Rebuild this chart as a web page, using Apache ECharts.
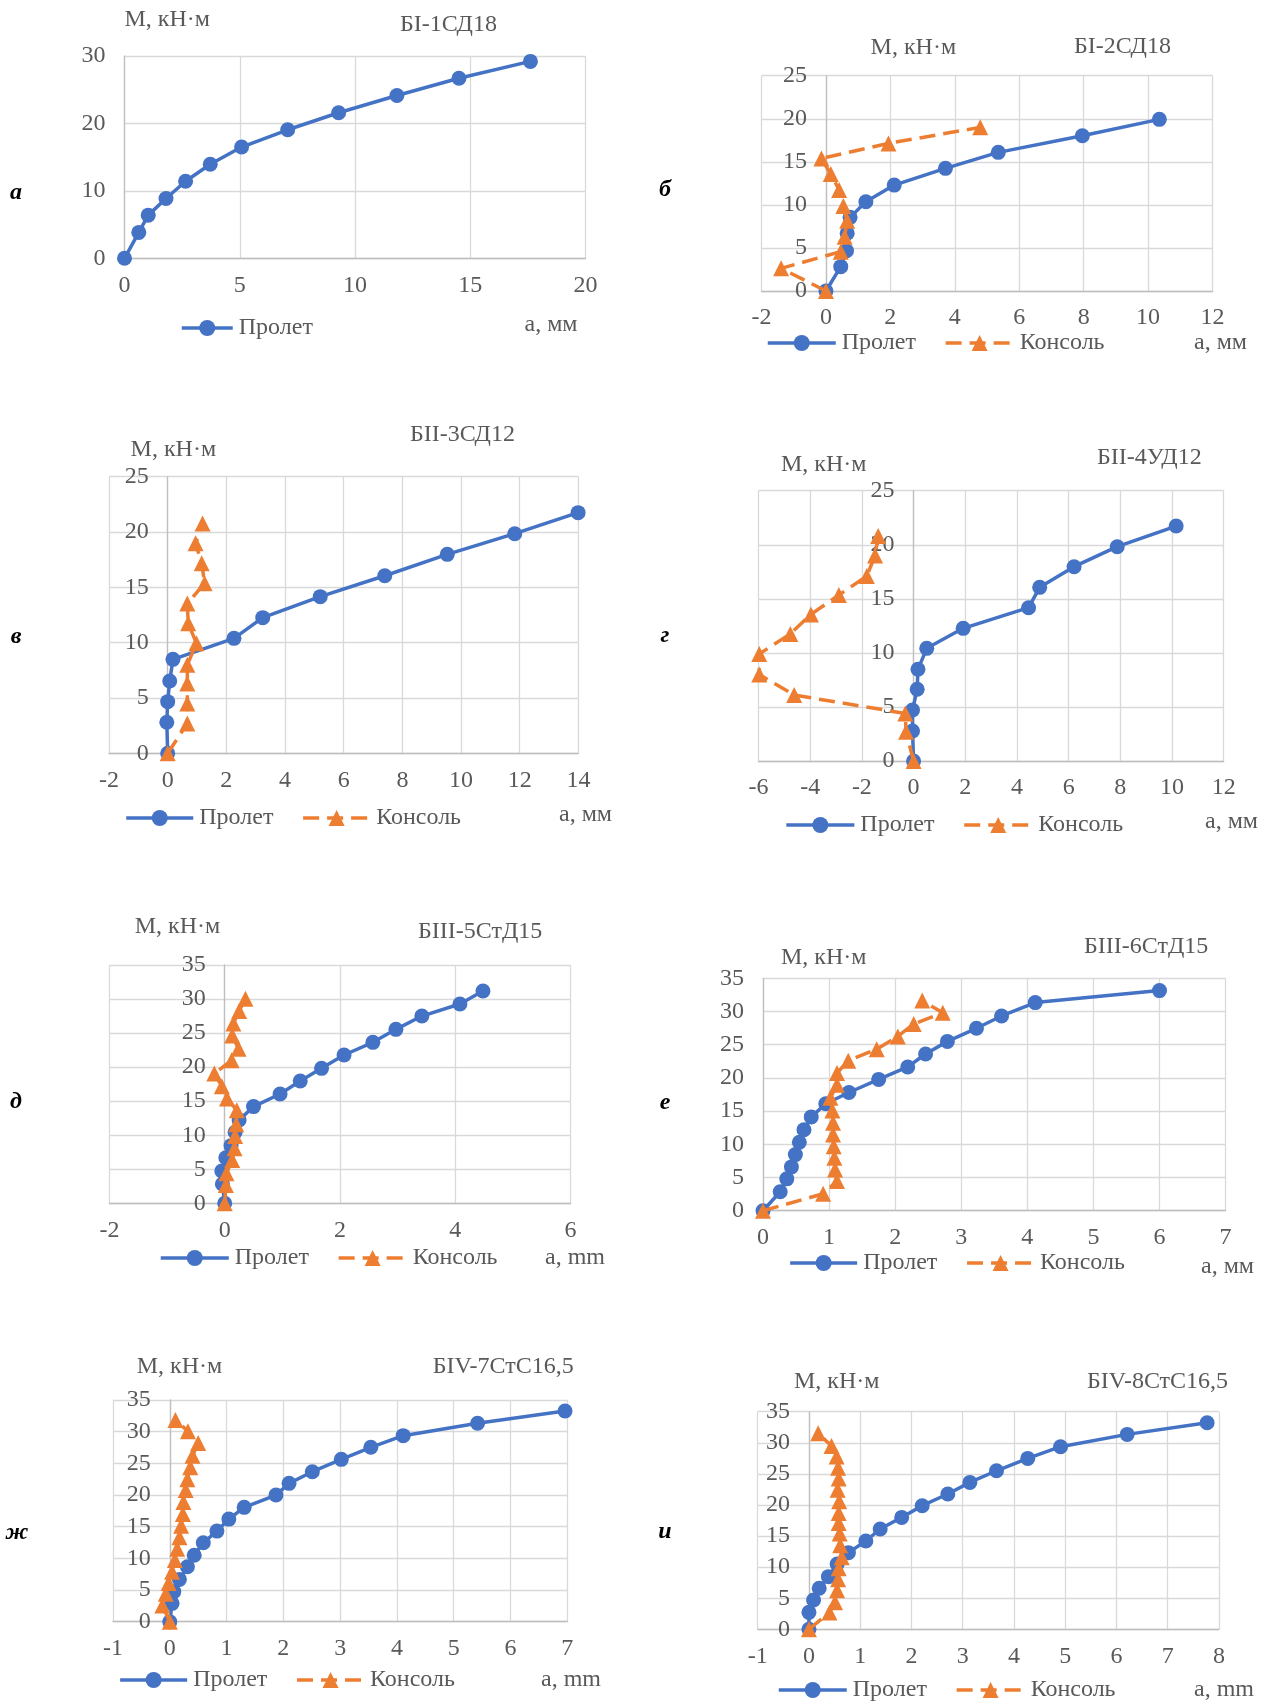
<!DOCTYPE html>
<html>
<head>
<meta charset="utf-8">
<script src="https://cdn.jsdelivr.net/npm/echarts@6/dist/echarts.min.js"></script>
<style>
  html, body { margin: 0; padding: 0; background: #ffffff; }
  #chart { width: 1266px; height: 1704px; }
</style>
</head>
<body>
<div id="chart"></div>
<script>
// ---- Measured moment–deflection data (a, mm ; M, kN·m) ----

// а: БI-1СД18
const a_span_a = [0, 0.62, 1.03, 1.8, 2.65, 3.72, 5.08, 7.08, 9.29, 11.82, 14.51, 17.61];
const a_span_M = [0, 3.84, 6.4, 8.87, 11.43, 13.94, 16.5, 19.06, 21.58, 24.14, 26.7, 29.2];

// б: БI-2СД18
const b_span_a = [0, 0.46, 0.64, 0.66, 0.75, 1.24, 2.12, 3.71, 5.35, 7.96, 10.35];
const b_span_M = [0, 2.83, 4.68, 6.7, 8.55, 10.37, 12.3, 14.24, 16.1, 18.03, 19.93];
const b_cant_a = [0, -1.39, 0.46, 0.58, 0.66, 0.54, 0.41, 0.15, -0.14, 1.94, 4.79];
const b_cant_M = [0, 2.63, 4.57, 6.3, 8.17, 9.87, 11.73, 13.58, 15.4, 17.14, 19.0];

// в: БII-3СД12
const v_span_a = [0, -0.03, 0, 0.07, 0.18, 2.26, 3.24, 5.2, 7.4, 9.53, 11.83, 13.99];
const v_span_M = [0, 2.8, 4.67, 6.54, 8.49, 10.39, 12.26, 14.16, 16.05, 17.98, 19.85, 21.75];
const v_cant_a = [0, 0.67, 0.67, 0.67, 0.67, 0.98, 0.7, 0.67, 1.26, 1.16, 0.95, 1.19];
const v_cant_M = [0, 2.7, 4.5, 6.3, 8.0, 9.94, 11.75, 13.55, 15.36, 17.17, 18.98, 20.78];

// г: БII-4УД12
const g_span_a = [0, -0.04, -0.04, 0.14, 0.17, 0.51, 1.92, 4.45, 4.88, 6.21, 7.88, 10.16];
const g_span_M = [0, 2.77, 4.72, 6.63, 8.48, 10.42, 12.27, 14.18, 16.06, 17.97, 19.82, 21.73];
const g_cant_a = [0, -0.29, -0.32, -4.62, -5.97, -5.97, -4.77, -3.97, -2.89, -1.81, -1.49, -1.37];
const g_cant_M = [0, 2.7, 4.4, 6.1, 8.0, 9.9, 11.75, 13.56, 15.35, 17.1, 19.0, 20.8];

// д: БIII-5СтД15
const d_span_a = [0, -0.04, -0.05, 0.02, 0.11, 0.18, 0.25, 0.5, 0.96, 1.31, 1.68, 2.07, 2.57, 2.97, 3.42, 4.08, 4.48];
const d_span_M = [0, 2.84, 4.75, 6.7, 8.47, 10.43, 12.24, 14.2, 16.05, 17.96, 19.82, 21.78, 23.64, 25.55, 27.5, 29.27, 31.18];
const d_cant_a = [0, 0.02, 0.03, 0.13, 0.17, 0.18, 0.2, 0.21, 0.04, -0.05, -0.18, 0.12, 0.24, 0.13, 0.15, 0.25, 0.36];
const d_cant_M = [0, 2.7, 4.4, 6.35, 8.1, 9.9, 11.6, 13.65, 15.4, 17.2, 19.05, 21.0, 22.7, 24.65, 26.4, 28.25, 30.05];

// е: БIII-6СтД15
const e_span_a = [0, 0.26, 0.36, 0.43, 0.49, 0.55, 0.62, 0.73, 0.95, 1.3, 1.75, 2.19, 2.46, 2.79, 3.23, 3.61, 4.12, 6.0];
const e_span_M = [0, 2.85, 4.8, 6.6, 8.45, 10.3, 12.2, 14.13, 16.1, 17.8, 19.77, 21.65, 23.6, 25.5, 27.47, 29.33, 31.34, 33.15];
const e_cant_a = [0, 0.91, 1.12, 1.09, 1.08, 1.07, 1.06, 1.06, 1.05, 1.02, 1.12, 1.12, 1.29, 1.72, 2.04, 2.28, 2.72, 2.41];
const e_cant_M = [0, 2.55, 4.47, 6.22, 7.97, 9.72, 11.47, 13.25, 15.1, 17.0, 18.97, 20.72, 22.6, 24.33, 26.25, 28.1, 29.8, 31.65];

// ж: БIV-7СтС16,5
const zh_span_a = [0, 0.04, 0.07, 0.17, 0.31, 0.43, 0.59, 0.83, 1.04, 1.31, 1.87, 2.1, 2.51, 3.02, 3.54, 4.11, 5.42, 6.96];
const zh_span_M = [0, 2.9, 4.74, 6.68, 8.68, 10.5, 12.47, 14.3, 16.2, 18.05, 20.0, 21.84, 23.68, 25.63, 27.53, 29.37, 31.32, 33.26];
const zh_cant_a = [0, -0.13, -0.07, -0.02, 0.04, 0.09, 0.13, 0.17, 0.2, 0.23, 0.24, 0.28, 0.31, 0.36, 0.4, 0.5, 0.32, 0.1];
const zh_cant_M = [0, 2.55, 4.4, 6.1, 7.9, 9.75, 11.5, 13.35, 15.15, 17.0, 18.9, 20.8, 22.5, 24.4, 26.2, 28.2, 30.05, 31.85];

// и: БIV-8СтС16,5
const i_span_a = [0, 0, 0.09, 0.2, 0.38, 0.55, 0.77, 1.11, 1.39, 1.81, 2.21, 2.71, 3.14, 3.66, 4.27, 4.91, 6.21, 7.77];
const i_span_M = [0, 2.73, 4.72, 6.6, 8.47, 10.5, 12.33, 14.2, 16.13, 18.0, 19.88, 21.76, 23.63, 25.5, 27.49, 29.37, 31.35, 33.23];
const i_cant_a = [0, 0.4, 0.51, 0.55, 0.57, 0.58, 0.64, 0.61, 0.6, 0.58, 0.58, 0.59, 0.56, 0.58, 0.57, 0.54, 0.44, 0.18];
const i_cant_M = [0, 2.7, 4.35, 6.3, 8.05, 9.8, 11.6, 13.5, 15.4, 17.1, 18.7, 20.6, 22.45, 24.25, 26.0, 27.8, 29.5, 31.55];

// Axis ranges: [min, max, interval]
const a_xRange = [0, 20, 5],  a_yRange = [0, 30, 10];
const b_xRange = [-2, 12, 2], b_yRange = [0, 25, 5];
const v_xRange = [-2, 14, 2], v_yRange = [0, 25, 5];
const g_xRange = [-6, 12, 2], g_yRange = [0, 25, 5];
const d_xRange = [-2, 6, 2],  d_yRange = [0, 35, 5];
const e_xRange = [0, 7, 1],   e_yRange = [0, 35, 5];
const zh_xRange = [-1, 7, 1], zh_yRange = [0, 35, 5];
const i_xRange = [-1, 8, 1],  i_yRange = [0, 35, 5];

// Text labels
const SPAN = 'Пролет';
const CANT = 'Консоль';
const Y_NAME = 'М, кН·м';

// ---- Layout and styling ----
const FONT = "'Liberation Serif', 'Times New Roman', serif";
const TXT = '#595959';
const BLUE = '#4472C4';
const ORANGE = '#ED7D31';
const LINE_W = 3.5;
const DASH = [16, 8];

const zip = (xs, ys) => xs.map((x, i) => [x, ys[i]]);

const panels = [
  { letter: 'а', title: 'БI-1СД18', xName: 'а, мм',
    grid: { left: 124.5, top: 56, width: 461, height: 202.3 },
    xr: a_xRange, yr: a_yRange,
    span: zip(a_span_a, a_span_M), cant: null,
    yNamePos: [124.5, 20], titlePos: [400, 25], xNamePos: [524.5, 325],
    letterPos: [16, 193], legendPos: [180, 316], legendIcon: 51 },
  { letter: 'б', title: 'БI-2СД18', xName: 'а, мм',
    grid: { left: 761.5, top: 75.7, width: 451, height: 215.3 },
    xr: b_xRange, yr: b_yRange,
    span: zip(b_span_a, b_span_M), cant: zip(b_cant_a, b_cant_M),
    yNamePos: [870.6, 48], titlePos: [1074, 47], xNamePos: [1194, 343],
    letterPos: [665, 190], legendPos: [766, 331], legendIcon: 68 },
  { letter: 'в', title: 'БII-3СД12', xName: 'а, мм',
    grid: { left: 109, top: 476.7, width: 469.4, height: 276.6 },
    xr: v_xRange, yr: v_yRange,
    span: zip(v_span_a, v_span_M), cant: zip(v_cant_a, v_cant_M),
    yNamePos: [130.6, 450], titlePos: [410, 435], xNamePos: [559, 815],
    letterPos: [16, 637], legendPos: [124.5, 806], legendIcon: 67 },
  { letter: 'г', title: 'БII-4УД12', xName: 'а, мм',
    grid: { left: 758.5, top: 490.7, width: 465.2, height: 270.3 },
    xr: g_xRange, yr: g_yRange,
    span: zip(g_span_a, g_span_M), cant: zip(g_cant_a, g_cant_M),
    yNamePos: [781, 465], titlePos: [1097, 458], xNamePos: [1205, 822],
    letterPos: [665, 636], legendPos: [784.6, 813], legendIcon: 68 },
  { letter: 'д', title: 'БIII-5СтД15', xName: 'а, mm',
    grid: { left: 109.4, top: 965, width: 461.2, height: 238.3 },
    xr: d_xRange, yr: d_yRange,
    span: zip(d_span_a, d_span_M), cant: zip(d_cant_a, d_cant_M),
    yNamePos: [134.7, 927], titlePos: [418, 932], xNamePos: [545, 1258],
    letterPos: [16, 1102], legendPos: [159, 1246], legendIcon: 68 },
  { letter: 'е', title: 'БIII-6СтД15', xName: 'а, мм',
    grid: { left: 763, top: 978.3, width: 462.6, height: 232.4 },
    xr: e_xRange, yr: e_yRange,
    span: zip(e_span_a, e_span_M), cant: zip(e_cant_a, e_cant_M),
    yNamePos: [781, 958], titlePos: [1084, 947], xNamePos: [1201, 1267],
    letterPos: [665, 1103], legendPos: [788.4, 1251], legendIcon: 67 },
  { letter: 'ж', title: 'БIV-7СтС16,5', xName: 'а, mm',
    grid: { left: 113, top: 1400, width: 454.3, height: 221.7 },
    xr: zh_xRange, yr: zh_yRange,
    span: zip(zh_span_a, zh_span_M), cant: zip(zh_cant_a, zh_cant_M),
    yNamePos: [136.7, 1367], titlePos: [432.7, 1367], xNamePos: [541, 1680],
    letterPos: [17, 1533], legendPos: [118.4, 1668], legendIcon: 67 },
  { letter: 'и', title: 'БIV-8СтС16,5', xName: 'а, mm',
    grid: { left: 757.7, top: 1411.7, width: 461.2, height: 217.6 },
    xr: i_xRange, yr: i_yRange,
    span: zip(i_span_a, i_span_M), cant: zip(i_cant_a, i_cant_M),
    yNamePos: [794, 1382], titlePos: [1087, 1382], xNamePos: [1194, 1690],
    letterPos: [665, 1532], legendPos: [777, 1678], legendIcon: 68 }
];

const labelStyle = { color: TXT, fontFamily: FONT, fontSize: 24 };
const splitLine = { show: true, lineStyle: { color: '#d9d9d9', width: 1.3 } };
const axisLineStyle = { color: '#bfbfbf', width: 1.3 };

const grids = [], xAxes = [], yAxes = [], series = [], legends = [], graphics = [];

panels.forEach((p, k) => {
  grids.push(Object.assign({ containLabel: false }, p.grid));
  xAxes.push({
    type: 'value', gridIndex: k,
    min: p.xr[0], max: p.xr[1], interval: p.xr[2],
    axisLine: { show: true, onZero: false, lineStyle: axisLineStyle },
    axisTick: { show: false },
    axisLabel: Object.assign({ margin: 15 }, labelStyle),
    splitLine: splitLine
  });
  // The vertical axis (with its labels) crosses the horizontal one at a = 0
  const zeroShift = p.grid.width * (0 - p.xr[0]) / (p.xr[1] - p.xr[0]);
  yAxes.push({
    type: 'value', gridIndex: k,
    min: p.yr[0], max: p.yr[1], interval: p.yr[2],
    offset: -zeroShift,
    axisLine: { show: true, onZero: false, lineStyle: axisLineStyle },
    axisTick: { show: false },
    axisLabel: Object.assign({ margin: 19 }, labelStyle),
    splitLine: splitLine
  });
  series.push({
    name: SPAN, type: 'line', xAxisIndex: k, yAxisIndex: k,
    data: p.span, symbol: 'circle', symbolSize: 15, showAllSymbol: true,
    clip: false, z: 3,
    lineStyle: { color: BLUE, width: LINE_W },
    itemStyle: { color: BLUE }
  });
  if (p.cant) {
    series.push({
      name: CANT, type: 'line', xAxisIndex: k, yAxisIndex: k,
      data: p.cant, symbol: 'triangle', symbolSize: 16, showAllSymbol: true,
      clip: false, z: 4,
      lineStyle: { color: ORANGE, width: LINE_W, type: DASH },
      itemStyle: { color: ORANGE }
    });
  }
  legends.push({
    data: p.cant ? [SPAN, CANT] : [SPAN],
    left: p.legendPos[0], top: p.legendPos[1],
    orient: 'horizontal', padding: 0,
    itemWidth: p.legendIcon, itemHeight: 20, itemGap: 28,
    selectedMode: false,
    lineStyle: { width: LINE_W },
    textStyle: { color: TXT, fontFamily: FONT, fontSize: 24, padding: [0, 0, 0, 1] }
  });
  const txt = (str, pos, extra) => ({
    type: 'text', x: pos[0], y: pos[1], silent: true,
    style: Object.assign({ text: str, fill: TXT, fontFamily: FONT, fontSize: 24,
      verticalAlign: 'middle', align: 'left' }, extra || {})
  });
  graphics.push(txt(Y_NAME, p.yNamePos));
  graphics.push(txt(p.title, p.titlePos));
  graphics.push(txt(p.xName, p.xNamePos));
  graphics.push(txt(p.letter, p.letterPos,
    { fill: '#000000', fontStyle: 'italic', fontWeight: 'bold', align: 'center' }));
});

const chart = echarts.init(document.getElementById('chart'), null, { renderer: 'canvas' });
chart.setOption({
  backgroundColor: '#ffffff',
  animation: false,
  grid: grids,
  xAxis: xAxes,
  yAxis: yAxes,
  legend: legends,
  series: series,
  graphic: graphics
});
</script>
</body>
</html>
